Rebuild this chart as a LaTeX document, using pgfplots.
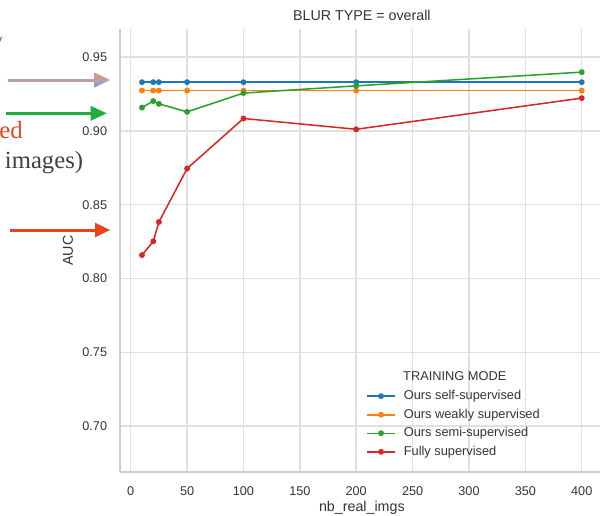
\documentclass[border=0pt]{standalone}
\usepackage{fontspec}
\setmainfont{Liberation Sans}
\newfontfamily\seriffont{Liberation Serif}
\usepackage{pgfplots}
\pgfplotsset{compat=1.18}
\definecolor{sbblue}{HTML}{1F77B4}
\definecolor{sborange}{HTML}{FF7F0E}
\definecolor{sbgreen}{HTML}{2CA02C}
\definecolor{sbred}{HTML}{D62728}
\definecolor{gridc}{HTML}{E0E0E0}
\definecolor{spinec}{HTML}{CCCCCC}
\definecolor{txt}{HTML}{333333}
\definecolor{arrred}{HTML}{E8441C}
\definecolor{arrgreen}{HTML}{1FAE40}
\definecolor{arrmauve}{HTML}{B8A0A8}
\definecolor{annogray}{HTML}{404040}
\begin{document}
\begin{tikzpicture}
\path[use as bounding box] (0,0) rectangle (450pt,-386.25pt);
% annotations (cut-off parts of a larger figure)
\draw[arrmauve, line width=2.25pt] (6.2pt,-60pt) -- (71pt,-60pt);
\shade[top color={rgb,255:red,230;green,150;blue,110}, bottom color={rgb,255:red,100;green,160;blue,230}, middle color=arrmauve]
  (70.7pt,-54.3pt) -- (82.5pt,-60pt) -- (70.7pt,-65.7pt) -- cycle;
\draw[arrgreen, line width=2.25pt] (4.5pt,-85pt) -- (68.5pt,-85pt);
\fill[arrgreen] (68pt,-79.4pt) -- (80pt,-85pt) -- (68pt,-90.6pt) -- cycle;
\draw[arrred, line width=2.25pt] (7.5pt,-172.5pt) -- (71.5pt,-172.5pt);
\fill[arrred] (71.25pt,-167pt) -- (82.5pt,-172.5pt) -- (71.25pt,-178pt) -- cycle;
\node[anchor=base east, inner sep=0pt, font=\seriffont\fontsize{18.5}{20}\selectfont, text=arrred] at (17.25pt,-103.7pt) {ed};
\node[anchor=base east, inner sep=0pt, font=\seriffont\fontsize{18.5}{20}\selectfont, text=annogray] at (62.5pt,-126.25pt) {images)};
\node[anchor=base east, inner sep=0pt, font=\seriffont\fontsize{14}{16}\selectfont, text=annogray] at (2.25pt,-34.5pt) {y};
\begin{axis}[
  at={(90pt,-354pt)}, anchor=south west,
  scale only axis, width=362.8pt, height=332.25pt,
  xmin=-9.5, xmax=419.5, ymin=0.669, ymax=0.969,
  axis x line*=bottom, axis y line*=left,
  axis line style={draw=spinec, line width=1.1pt},
  major tick length=0pt,
  grid=major, major grid style={draw=gridc, line width=1.1pt},
  xtick={0,50,...,400},
  ytick={0.70,0.75,0.80,0.85,0.90,0.95},
  /pgf/number format/assume math mode=true,
  yticklabel style={/pgf/number format/fixed, /pgf/number format/fixed zerofill, /pgf/number format/precision=2},
  xticklabel style={font=\fontsize{9.5}{11}\selectfont, text=txt, anchor=center, inner sep=0pt, yshift=-14.25pt},
  yticklabel style={font=\fontsize{9.5}{11}\selectfont, text=txt, anchor=east, inner sep=0pt, xshift=-9.5pt},
  every axis title shift=0pt,
  title={BLUR TYPE = overall},
  title style={at={(0.5,1.0305)}, anchor=center, font=\fontsize{10.7}{12}\selectfont, text=txt, inner sep=0pt},
  xlabel={nb\_real\_imgs},
  xlabel style={at={(0.5,-0.0813)}, anchor=center, font=\fontsize{10.7}{12}\selectfont, text=txt, inner sep=0pt},
  ylabel={AUC},
  ylabel style={at={(-0.1075,0.5)}, anchor=center, font=\fontsize{10.7}{12}\selectfont, text=txt, inner sep=0pt},
  legend cell align=left,
  legend image code/.code={\draw[mark repeat=2,mark phase=2,#1] plot coordinates {(0pt,0.5pt) (10.5pt,0.5pt) (21pt,0.5pt)};},
  legend style={at={(0.5086,0.1842)}, anchor=north west, draw=none, fill=none,
    font=\fontsize{9.6}{11}\selectfont, text=txt, inner sep=0pt, row sep=4.6pt, column sep=6pt,
    nodes={inner sep=0pt, text height=6.9pt, text depth=2.4pt}},
  every axis plot/.append style={line width=1.15pt, mark=*, mark size=1.6pt, mark options={draw=white, line width=0.3pt}},
]
\addplot[sbblue, mark options={fill=sbblue}] coordinates {(10,0.933)(20,0.933)(25,0.933)(50,0.933)(100,0.933)(200,0.933)(400,0.933)};
\addlegendentry{Ours self-supervised}
\addplot[sborange, mark options={fill=sborange}] coordinates {(10,0.9273)(20,0.9273)(25,0.9273)(50,0.9273)(100,0.9273)(200,0.9273)(400,0.9273)};
\addlegendentry{Ours weakly supervised}
\addplot[sbgreen, mark options={fill=sbgreen}] coordinates {(10,0.9158)(20,0.9202)(25,0.9183)(50,0.9129)(100,0.9256)(200,0.9305)(400,0.9398)};
\addlegendentry{Ours semi-supervised}
\addplot[sbred, mark options={fill=sbred}] coordinates {(10,0.8159)(20,0.8252)(25,0.8383)(50,0.8745)(100,0.9084)(200,0.9011)(400,0.9222)};
\addlegendentry{Fully supervised}
\node[font=\fontsize{9.6}{11}\selectfont, text=txt, inner sep=0pt] at (axis description cs:0.692,0.2167) {TRAINING MODE};
\end{axis}
\end{tikzpicture}
\end{document}
